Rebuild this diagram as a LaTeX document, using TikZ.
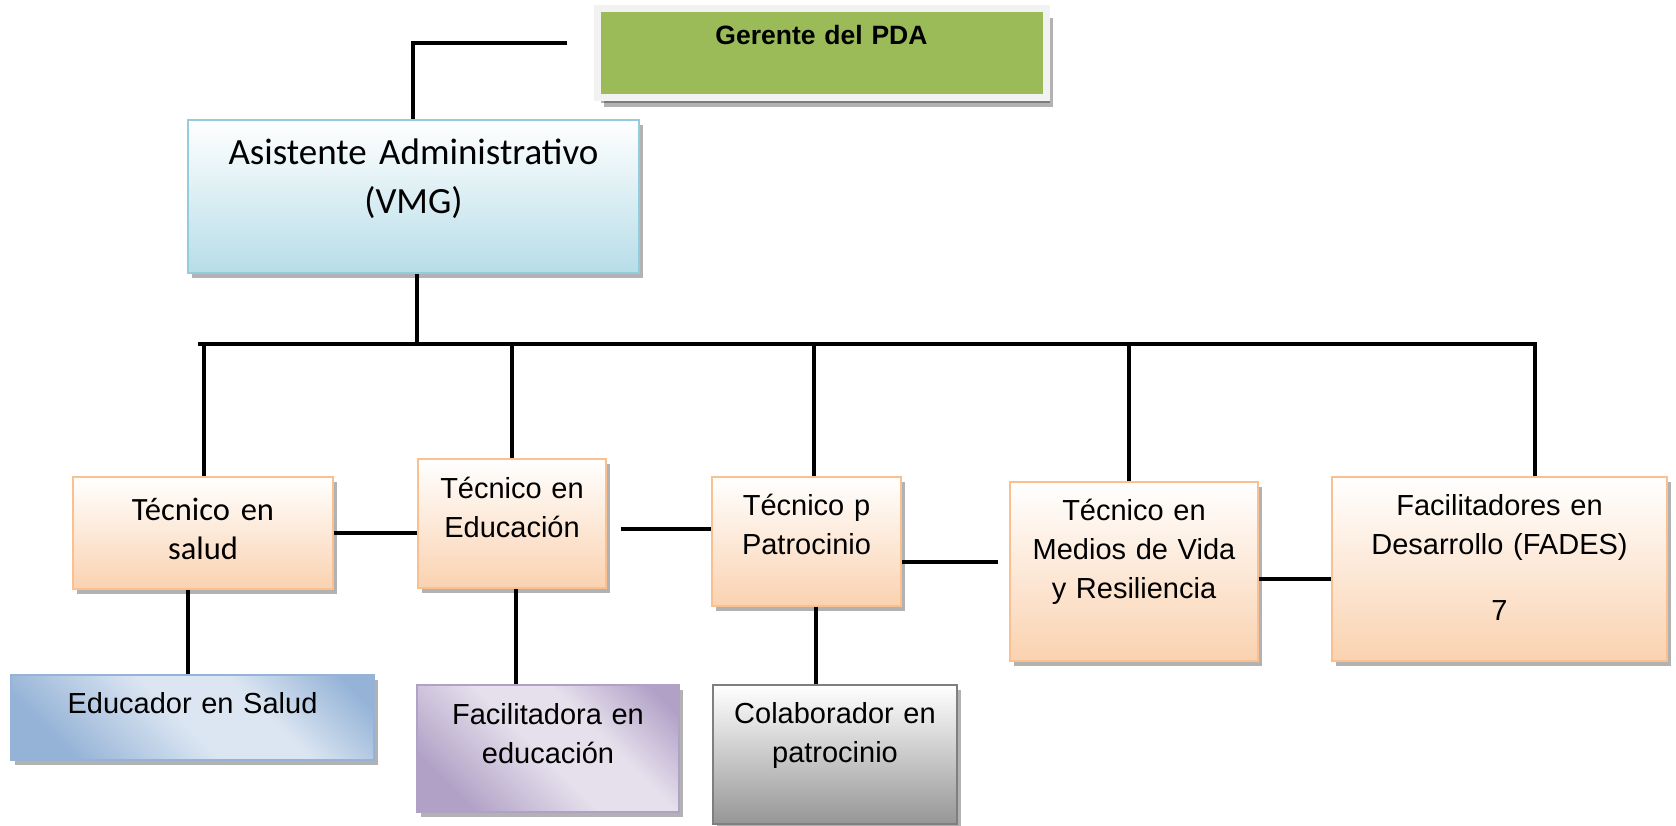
\documentclass[tikz,border=0pt]{standalone}
\usepackage{fontspec}
\setmainfont{Liberation Sans}
\newfontfamily\calibri{Carlito}
\usetikzlibrary{shadows}

\definecolor{leaf}{HTML}{9BBB59}
\definecolor{frame}{HTML}{F2F2F2}
\definecolor{sky}{HTML}{B7DDE8}
\definecolor{skyline}{HTML}{93CDDD}
\definecolor{peach}{HTML}{FAD2B0}
\definecolor{peachline}{HTML}{FAC090}
\definecolor{bluedark}{HTML}{95B3D7}
\definecolor{bluelight}{HTML}{DCE6F2}
\definecolor{violetdark}{HTML}{B2A1C7}
\definecolor{violetlight}{HTML}{E5E0EC}
\definecolor{greydark}{HTML}{969696}
\definecolor{greyline}{HTML}{7F7F7F}

\pgfdeclarehorizontalshading{stripe blue}{100bp}{color(0bp)=(bluedark); color(25bp)=(bluedark); color(48bp)=(bluelight); color(62bp)=(bluelight); color(80bp)=(bluedark); color(100bp)=(bluedark)}
\pgfdeclarehorizontalshading{stripe violet}{100bp}{color(0bp)=(violetdark); color(25bp)=(violetdark); color(48bp)=(violetlight); color(62bp)=(violetlight); color(80bp)=(violetdark); color(100bp)=(violetdark)}

\begin{document}
\begin{tikzpicture}[x=1pt, y=-1pt,
    link/.style={line width=3.6pt},
    box/.style={draw, line width=2pt, inner sep=0pt, align=center, anchor=base,
      drop shadow={shadow xshift=4pt, shadow yshift=-5pt, fill=black, opacity=.3}},
    head box/.style={box, draw=frame, fill=leaf, line width=7pt,
      drop shadow={shadow xshift=7pt, shadow yshift=-9pt, fill=black, opacity=.3},
      font={\fontsize{26.5}{32}\selectfont\bfseries}},
    asist box/.style={box, draw=skyline, top color=white, bottom color=sky,
      font={\calibri\fontsize{37}{49}\selectfont}},
    tec box/.style={box, draw=peachline, top color=white, bottom color=peach,
      font={\fontsize{29}{39}\selectfont}},
    blue box/.style={box, draw=bluedark, shading=stripe blue, shading angle=45,
      font={\fontsize{29}{39}\selectfont}},
    violet box/.style={box, draw=violetdark, shading=stripe violet, shading angle=45,
      font={\fontsize{29}{39}\selectfont}},
    grey box/.style={box, draw=greyline, top color=white, bottom color=greydark,
      font={\fontsize{29}{39}\selectfont}},
  ]
  \useasboundingbox (0,0) rectangle (1676,826);

  \node[head box, text width=449, text height=36, text depth=53] (gerente) at (821.5,45) {Gerente del PDA};
  \node[asist box, text width=451, text height=45, text depth=108] (asist) at (413.5,165) {Asistente Administrativo\\(VMG)};

  \node[tec box, text width=260, text height=43, text depth=69, font={\calibri\fontsize{32.5}{39}\selectfont}] (salud) at (203,520) {Técnico en\\salud};
  \node[tec box, text width=188, text height=39, text depth=90] (educ) at (512,498) {Técnico en\\Educación};
  \node[tec box, text width=189, text height=38, text depth=91] (patro) at (806.5,515) {Técnico p\\Patrocinio};
  \node[tec box, text width=248, text height=38, text depth=141] (medios) at (1134,520) {Técnico en\\Medios de Vida\\y Resiliencia};
  \node[tec box, text width=335, text height=38, text depth=146] (facil) at (1499.5,515) {Facilitadores en\\Desarrollo (FADES)\\[27pt]7};

  \node[blue box, text width=363, text height=38, text depth=47] (educador) at (192.5,713) {Educador en Salud};
  \node[violet box, text width=262, text height=39, text depth=88] (facilitadora) at (548,724) {Facilitadora en\\educación};
  \node[grey box, text width=244, text height=38, text depth=101] (colab) at (835,723) {Colaborador en\\patrocinio};

  \coordinate (gend) at (567,43);
  \coordinate (gturn) at (413,43);
  \draw[link] (gend) -- (gturn) -- (gturn |- asist.north);

  \coordinate (busL) at (198,344);
  \coordinate (busR) at (1536.8,344);
  \draw[link] (asist.south -| 417,0) -- (busL -| 417,0);
  \draw[link] (busL) -- (busR);
  \foreach \n/\x in {salud/204, educ/512, patro/814, medios/1129, facil/1535}
    \draw[link] (\n.north -| \x,0) -- (busL -| \x,0);

  \coordinate (ep) at (621,529);
  \coordinate (pm) at (998,562);
  \coordinate (mf) at (1300,579);
  \draw[link] (salud.east) -- (salud.east -| educ.west);
  \draw[link] (ep) -- (ep -| patro.west);
  \draw[link] (pm -| patro.east) -- (pm);
  \draw[link] (mf -| medios.east) -- (mf -| facil.west);

  \foreach \n/\m/\x in {salud/educador/188, educ/facilitadora/516, patro/colab/816}
    \draw[link] (\n.south -| \x,0) -- (\m.north -| \x,0);
\end{tikzpicture}
\end{document}
